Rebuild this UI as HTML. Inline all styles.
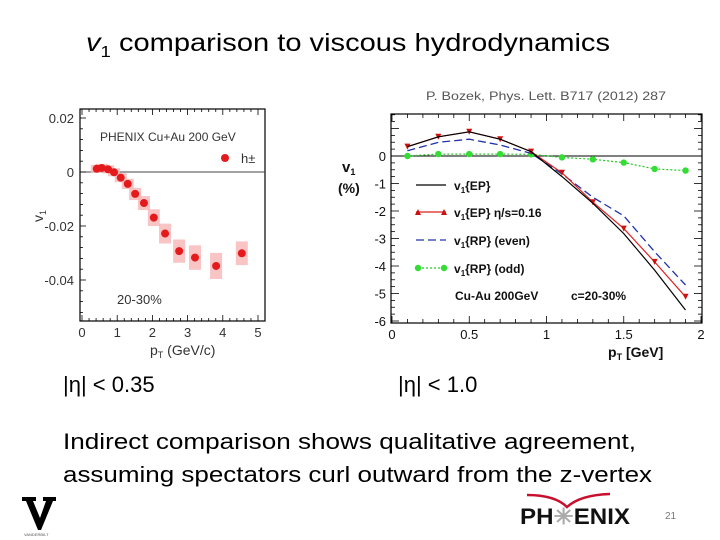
<!DOCTYPE html>
<html><head><meta charset="utf-8"><style>
body{margin:0;background:#fff}
svg{display:block;font-family:"Liberation Sans",sans-serif}
</style></head><body>
<svg id="s" width="720" height="540" viewBox="0 0 720 540">
<text x="86" y="51" font-size="25" fill="#000" textLength="524" lengthAdjust="spacingAndGlyphs"><tspan font-style="italic">v</tspan><tspan font-size="16" dy="6">1</tspan><tspan dy="-6"> comparison to viscous hydrodynamics</tspan></text>
<text x="426" y="100" font-size="12" fill="#555" textLength="240" lengthAdjust="spacingAndGlyphs">P. Bozek, Phys. Lett. B717 (2012) 287</text>
<g id="L"></g>
<g id="R"></g>
<text x="63" y="392" font-size="22" fill="#000">|η| &lt; 0.35</text>
<text x="398" y="392" font-size="22" fill="#000">|η| &lt; 1.0</text>
<text x="63" y="449" font-size="22" fill="#000" textLength="573" lengthAdjust="spacingAndGlyphs">Indirect comparison shows qualitative agreement,</text>
<text x="63" y="482" font-size="22" fill="#000" textLength="589" lengthAdjust="spacingAndGlyphs">assuming spectators curl outward from the z-vertex</text>
<g>
<path d="M22 497 L36 497 L36 501 L33 501 L40 518 L46 501 L43 501 L43 497 L56 497 L56 501 L53 501 L41 530 L38 530 L26 501 L22 501Z" fill="#000"/>
<text x="24" y="536" font-size="4" fill="#555">VANDERBILT</text>
</g>
<g>
<path d="M527 495 Q555 495 567 507 Q580 495 610 494" stroke="#c8102e" stroke-width="2.5" fill="none"/>
<text x="520" y="524" font-size="22" font-weight="bold" fill="#111" textLength="110" lengthAdjust="spacingAndGlyphs">PH<tspan fill="#aaa">✳</tspan>ENIX</text>
</g>
<text x="665" y="519" font-size="10" fill="#777">21</text>
</svg>
<script>
// Left chart data (PHENIX Cu+Au h±)
const leftPt=[0.42,0.56,0.74,0.91,1.10,1.30,1.51,1.76,2.04,2.36,2.76,3.21,3.81,4.54];
const leftV1=[0.0012,0.0015,0.0010,-0.0001,-0.0021,-0.0044,-0.0081,-0.0115,-0.0169,-0.0228,-0.0293,-0.0317,-0.0348,-0.0301];
const leftXTicks=[0,1,2,3,4,5];
const leftYTicks=[0.02,0,-0.02,-0.04];
const leftYLabels=["0.02","0","-0.02","-0.04"];
// Right chart data (Bozek hydro)
const rightPt=[0.1,0.3,0.5,0.7,0.9,1.1,1.3,1.5,1.7,1.9];
const epBlack=[0.34,0.70,0.88,0.61,0.16,-0.75,-1.72,-2.82,-4.15,-5.6];
const epRed=[0.34,0.70,0.88,0.61,0.16,-0.61,-1.68,-2.64,-3.85,-5.12];
const rpEven=[0.19,0.50,0.61,0.40,0.10,-0.65,-1.50,-2.18,-3.48,-4.69];
const rpOdd=[0.0,0.07,0.07,0.07,0.06,-0.05,-0.12,-0.24,-0.47,-0.53];
const rightXTicks=[0,0.5,1,1.5,2];
const rightXLabels=["0","0.5","1","1.5","2"];
const rightYTicks=[0,-1,-2,-3,-4,-5,-6];

const NS="http://www.w3.org/2000/svg";
function mk(p,tag,a,txt){const e=document.createElementNS(NS,tag);for(const k in a)e.setAttribute(k,a[k]);if(txt!==undefined)e.textContent=txt;p.appendChild(e);return e;}

// LEFT
const L=document.getElementById('L');
const lx=v=>82+v*35.2, ly=v=>172-v*2700;
let f=mk(L,'rect',{x:80,y:109,width:185,height:212,fill:'none',stroke:'#000','stroke-width':1.2});


mk(L,'line',{x1:80,x2:265,y1:ly(0),y2:ly(0),stroke:'#444','stroke-width':1});
for(let t=0;t<=5.1;t+=0.2){const big=Math.abs(t-Math.round(t))<0.01;mk(L,'line',{x1:lx(t),x2:lx(t),y1:321,y2:321-(big?6:3),stroke:'#000','stroke-width':0.8});mk(L,'line',{x1:lx(t),x2:lx(t),y1:109,y2:109+(big?6:3),stroke:'#000','stroke-width':0.8});}
for(let v=0.02;v>=-0.056;v-=0.004){const big=Math.abs(v*50-Math.round(v*50))<0.01;mk(L,'line',{x1:80,x2:80+(big?6:3),y1:ly(v),y2:ly(v),stroke:'#000','stroke-width':0.8});}
leftXTicks.forEach(t=>{const e=mk(L,'text',{x:lx(t),y:337,'font-size':13,'text-anchor':'middle',fill:'#333'},String(t));});
leftYTicks.forEach((t,i)=>{const e=mk(L,'text',{x:74,y:ly(t)+5,'font-size':13,'text-anchor':'end',fill:'#333'},leftYLabels[i]);});
let e=mk(L,'text',{x:150,y:355,'font-size':14,fill:'#333'},'p');


mk(e,'tspan',{'font-size':9,dy:3},'T');mk(e,'tspan',{dy:-3},' (GeV/c)');
e=mk(L,'text',{x:0,y:0,'font-size':14,fill:'#333',transform:'translate(43,222) rotate(-90)'},'v');


mk(e,'tspan',{'font-size':9,dy:3},'1');
e=mk(L,'text',{x:100,y:141,'font-size':12,fill:'#333'},'PHENIX Cu+Au 200 GeV');


mk(L,'circle',{cx:225,cy:158,r:4,fill:'#e41a1c'});
e=mk(L,'text',{x:241,y:163,'font-size':13,fill:'#333'},'h±');


e=mk(L,'text',{x:117,y:304,'font-size':13,fill:'#333'},'20-30%');


leftPt.forEach((p,i)=>{const v=leftV1[i];const hh=4+Math.max(0,-v)*260;
 const b=mk(L,'rect',{x:lx(p)-6,y:ly(v)-hh,width:12,height:2*hh,fill:'#f6b5b5',opacity:0.8});
 
 });
leftPt.forEach((p,i)=>{const c=mk(L,'circle',{cx:lx(p),cy:ly(leftV1[i]),r:4,fill:'#e41a1c'});
 
 });

// RIGHT
const R=document.getElementById('R');
const rx=v=>392+v*154.5, ry=v=>156-v*27.5;
f=mk(R,'rect',{x:391,y:114,width:311,height:209,fill:'none',stroke:'#000','stroke-width':1.2});


mk(R,'line',{x1:391,x2:702,y1:ry(0),y2:ry(0),stroke:'#000','stroke-width':1});
for(let t=0;t<=2.001;t+=0.1){const big=Math.abs(t*2-Math.round(t*2))<0.01;mk(R,'line',{x1:rx(t),x2:rx(t),y1:323,y2:323-(big?7:4),stroke:'#000','stroke-width':0.8});mk(R,'line',{x1:rx(t),x2:rx(t),y1:114,y2:114+(big?7:4),stroke:'#000','stroke-width':0.8});}
for(let v=1.5;v>=-6.01;v-=0.25){const big=Math.abs(v-Math.round(v))<0.01;mk(R,'line',{x1:391,x2:391+(big?8:4),y1:ry(v),y2:ry(v),stroke:'#000','stroke-width':0.8});mk(R,'line',{x1:702,x2:702-(big?8:4),y1:ry(v),y2:ry(v),stroke:'#000','stroke-width':0.8});}
rightXTicks.forEach((t,i)=>{const e=mk(R,'text',{x:rx(t),y:339,'font-size':13,'text-anchor':'middle',fill:'#111'},rightXLabels[i]);});
rightYTicks.forEach(t=>{const e=mk(R,'text',{x:386,y:ry(t)+5,'font-size':13,'text-anchor':'end',fill:'#111'},String(t));});
e=mk(R,'text',{x:608,y:357,'font-size':14,'font-weight':'bold',fill:'#111'},'p');


mk(e,'tspan',{'font-size':9,dy:3},'T');mk(e,'tspan',{dy:-3},' [GeV]');
e=mk(R,'text',{x:342,y:172,'font-size':15,'font-weight':'bold',fill:'#111'},'v');


mk(e,'tspan',{'font-size':9,dy:3},'1');
mk(R,'text',{x:338,y:193,'font-size':14,'font-weight':'bold',fill:'#111'},'(%)');
function path(xs,ys){return xs.map((x,i)=>(i?'L':'M')+rx(x).toFixed(1)+' '+ry(ys[i]).toFixed(1)).join(' ');}
let p=mk(R,'path',{d:path(rightPt,rpOdd),stroke:'#22cc22','stroke-width':1.2,'stroke-dasharray':'2 2',fill:'none'});


rightPt.forEach((x,i)=>{const c=mk(R,'circle',{cx:rx(x),cy:ry(rpOdd[i]),r:3.2,fill:'#33dd33'});});
p=mk(R,'path',{d:path(rightPt,rpEven),stroke:'#2233aa','stroke-width':1.3,'stroke-dasharray':'8 4',fill:'none'});


p=mk(R,'path',{d:path(rightPt,epRed),stroke:'#dd2222','stroke-width':1.2,fill:'none'});


rightPt.forEach((x,i)=>{const X=rx(x),Y=ry(epRed[i]);const t=mk(R,'path',{d:`M${X-3} ${Y-3} L${X+3} ${Y-3} L${X} ${Y+3}Z`,fill:'#cc1111'});});
p=mk(R,'path',{d:path(rightPt,epBlack),stroke:'#000','stroke-width':1.2,fill:'none'});


// legend
const lg=[['v','{EP}',''],['v','{EP}','  η/s=0.16'],['v','{RP}','  (even)'],['v','{RP}','  (odd)']];
const ly0=[185,212,240,268];
lg.forEach((l,i)=>{const y=ly0[i];
 if(i==0)mk(R,'line',{x1:416,x2:446,y1:y,y2:y,stroke:'#000','stroke-width':1.2});
 if(i==1){mk(R,'line',{x1:416,x2:446,y1:y,y2:y,stroke:'#dd2222','stroke-width':1.2});[418,444].forEach(X=>mk(R,'path',{d:`M${X-3} ${y+3} L${X+3} ${y+3} L${X} ${y-3}Z`,fill:'#cc1111'}));}
 if(i==2)mk(R,'line',{x1:416,x2:446,y1:y,y2:y,stroke:'#2233aa','stroke-width':1.2,'stroke-dasharray':'8 4'});
 if(i==3){mk(R,'line',{x1:418,x2:444,y1:y,y2:y,stroke:'#22cc22','stroke-width':1.2,'stroke-dasharray':'2 2'});[418,444].forEach(X=>mk(R,'circle',{cx:X,cy:y,r:3.2,fill:'#33dd33'}));}
 const t=mk(R,'text',{x:454,y:y+5,'font-size':12,'font-weight':'bold',fill:'#111'},'v');
 
 
 mk(t,'tspan',{'font-size':8,dy:3},'1');mk(t,'tspan',{dy:-3},l[1]+l[2]);
});
e=mk(R,'text',{x:455,y:300,'font-size':12,'font-weight':'bold',fill:'#111'},'Cu-Au 200GeV');


e=mk(R,'text',{x:571,y:300,'font-size':12,'font-weight':'bold',fill:'#111'},'c=20-30%');


</script>
</body></html>
